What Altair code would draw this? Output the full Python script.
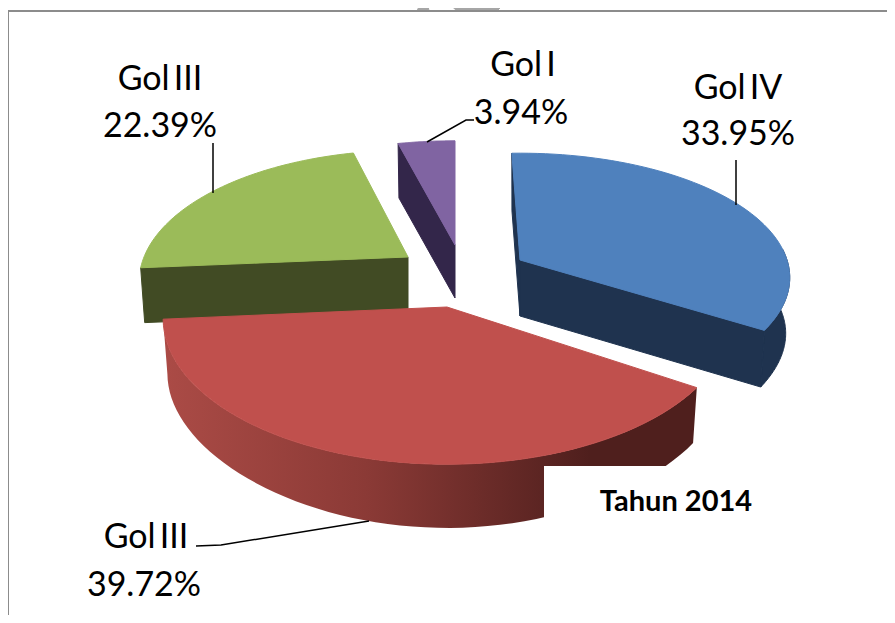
import math
import altair as alt
import pandas as pd

# --- chart values ---
names = ["Gol IV", "Gol III", "Gol III", "Gol I"]
shares = [33.95, 39.72, 22.39, 3.94]
label_lines = ["Gol\u2009IV", "33.95%", "Gol\u2009III", "39.72%", "Gol\u2009III", "22.39%", "Gol\u2009I", "3.94%"]
label_x = [738, 738, 146, 144, 160, 160, 523, 521]
label_y = [89, 135, 538, 586, 80, 127, 66, 114]
top_colors = ["#4F81BD", "#C0504D", "#9BBB59", "#8064A2"]
wall_colors = ["#1F334F", "#4F1F1D", "#414B24", "#33264A"]
apex_x = [520, 447, 408, 455]
apex_y = [260, 307, 257, 245]
depths = [56, 55, 55, 53]
radius_x = [267.0, 283.0, 264.0, 275.0]
radius_y = [122.0, 145.0, 127.0, 124.0]
persp = [0.142, 0.078, 0.19, 0.19]
start_offset = [-2.0, 0.0, 0.0, 0.0]

caption = "Tahun 2014"

PLOT_W, PLOT_H = 879, 607
X_SCALE = alt.Scale(domain=[8, 8 + PLOT_W], range=[0, PLOT_W], nice=False, zero=False)
Y_SCALE = alt.Scale(domain=[8, 8 + PLOT_H], range=[0, PLOT_H], nice=False, zero=False)


def project(k, deg, depth=0.0):
    t = math.radians(deg)
    u, v = math.sin(t), -math.cos(t)
    w = 1.0 / (1.0 - persp[k] * v)
    x, y = radius_x[k] * u * w, radius_y[k] * v * w
    cx, cy = apex_x[k], apex_y[k]
    if depth:
        return cx + 0.985 * x, cy + y * 0.985 + depth * (1 + 0.2 * max(v, 0) ** 3)
    return cx + x, cy + y


def arc(k, a, b, depth=0.0, n=60):
    return [project(k, a + (b - a) * i / n, depth) for i in range(n + 1)]


def polygon(points, **mark):
    df = pd.DataFrame(points, columns=["x", "y"])
    df["i"] = range(len(df))
    return (
        alt.Chart(df)
        .mark_line(interpolate="linear-closed", **mark)
        .encode(
            x=alt.X("x:Q", scale=X_SCALE, axis=None),
            y=alt.Y("y:Q", scale=Y_SCALE, axis=None),
            order="i:Q",
        )
    )


def fill_poly(points, color):
    return polygon(points, fill=color, stroke=color, strokeWidth=1)


def polyline(points, color="#000000", width=1.5):
    df = pd.DataFrame(points, columns=["x", "y"])
    df["i"] = range(len(df))
    return (
        alt.Chart(df)
        .mark_line(color=color, strokeWidth=width)
        .encode(
            x=alt.X("x:Q", scale=X_SCALE, axis=None),
            y=alt.Y("y:Q", scale=Y_SCALE, axis=None),
            order="i:Q",
        )
    )


# slice angle ranges from the shares
angles = []
acc = 0.0
for s, off in zip(shares, start_offset):
    angles.append((acc * 3.6 + off, (acc + s) * 3.6))
    acc += s

layers = []

# Watermark fragments and frame
layers.append(fill_poly([(445, 0), (508, 0), (497, 11), (457, 11)], "#A6A6A6"))
layers.append(fill_poly([(417, 11), (422, 0), (427, 0), (429, 11)], "#A6A6A6"))
layers.append(polyline([(8, 8 + PLOT_H), (8, 11), (8 + PLOT_W, 11)], "#8C8C8C", 2))

for k in [3, 2, 0]:
    a, b = angles[k]
    cx, cy, d = apex_x[k], apex_y[k], depths[k]
    wc, tc = wall_colors[k], top_colors[k]
    apex_top = (cx, cy)
    apex_bot = (cx, cy + d)
    layers.append(fill_poly([project(k, a), apex_top, apex_bot, project(k, a, d)], wc))
    if k == 0:
        layers.append(fill_poly(arc(k, 85, b) + arc(k, 85, b, d)[::-1], wc))
        layers.append(fill_poly([apex_top, project(k, b), project(k, b, d), apex_bot], wc))
    layers.append(fill_poly([apex_top] + arc(k, a, b), tc))

# Large red slice: shaded outer wall, then the top
a, b = angles[1]
wall_fill = alt.Gradient(
    gradient="linear", x1=1, x2=0, y1=0, y2=0,
    stops=[
        alt.GradientStop(color="#4F1F1D", offset=0),
        alt.GradientStop(color="#4F1F1D", offset=0.2),
        alt.GradientStop(color="#8B3A36", offset=0.62),
        alt.GradientStop(color="#AB4B46", offset=1),
    ],
)
layers.append(polygon(arc(1, a, b) + arc(1, a, b, depths[1])[::-1], fill=wall_fill, strokeWidth=0))
layers.append(fill_poly([(apex_x[1], apex_y[1])] + arc(1, a, b), top_colors[1]))

# Leader lines
layers.append(polyline([(736, 160), (736, 205)]))
layers.append(polyline([(213, 143), (213, 193)]))
layers.append(polyline([(427, 142), (466, 120), (474, 120)]))
layers.append(polyline([(196, 546), (221, 545), (369, 521)]))

# White patch behind the caption
patch = pd.DataFrame({"x": [544], "x2": [800], "y": [466], "y2": [535]})
layers.append(
    alt.Chart(patch).mark_rect(color="#FFFFFF").encode(
        x=alt.X("x:Q", scale=X_SCALE, axis=None),
        x2="x2:Q",
        y=alt.Y("y:Q", scale=Y_SCALE, axis=None),
        y2="y2:Q",
    )
)

labels = pd.DataFrame({"t": label_lines, "x": label_x, "y": label_y})
layers.append(
    alt.Chart(labels)
    .mark_text(font="Lato", fontSize=34, color="#000000", baseline="middle", align="center")
    .encode(
        x=alt.X("x:Q", scale=X_SCALE, axis=None),
        y=alt.Y("y:Q", scale=Y_SCALE, axis=None),
        text="t:N",
    )
)
cap = pd.DataFrame({"t": [caption], "x": [676], "y": [502]})
layers.append(
    alt.Chart(cap)
    .mark_text(font="Lato", fontSize=29, fontWeight="bold", color="#000000", baseline="middle", align="center")
    .encode(
        x=alt.X("x:Q", scale=X_SCALE, axis=None),
        y=alt.Y("y:Q", scale=Y_SCALE, axis=None),
        text="t:N",
    )
)

chart = (
    alt.layer(*layers)
    .properties(width=PLOT_W, height=PLOT_H, padding=0, autosize=alt.AutoSizeParams(type="none"))
    .configure_view(stroke=None)
)
chart.save("out.html", embed_options={"renderer": "svg", "actions": False})
